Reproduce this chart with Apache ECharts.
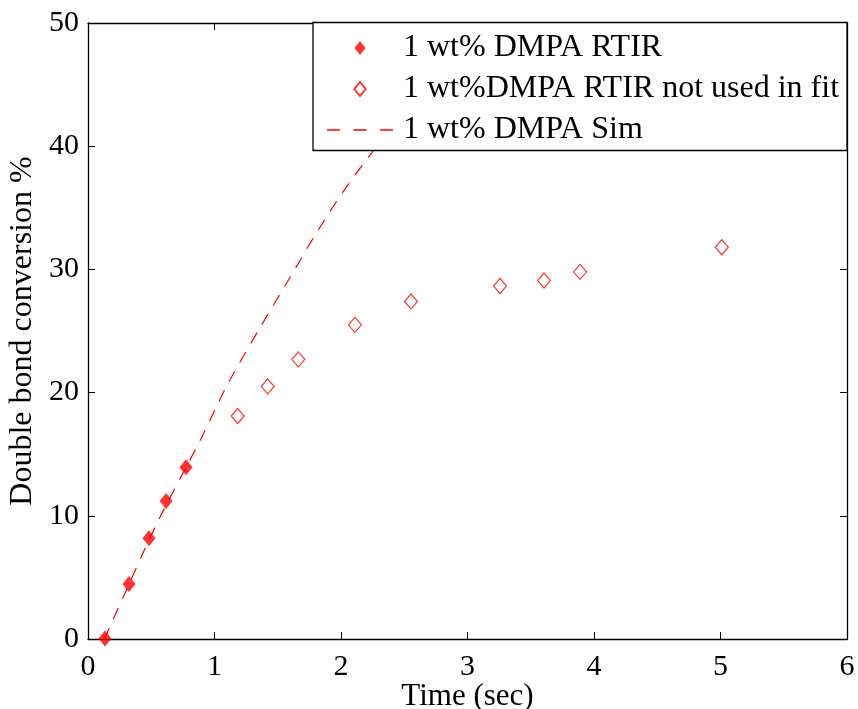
<!DOCTYPE html>
<html>
<head>
<meta charset="utf-8">
<script src="https://cdn.jsdelivr.net/npm/echarts@6/dist/echarts.min.js"></script>
<style>html,body{margin:0;padding:0;background:#fff}#c{width:858px;height:709px}</style>
</head>
<body>
<div id="c"></div>
<script>
var fitTime = [0.134, 0.324, 0.482, 0.617, 0.775];
var fitConv = [0.05, 4.46, 8.17, 11.2, 13.94];
var unusedTime = [1.183, 1.42, 1.663, 2.11, 2.553, 3.257, 3.605, 3.89, 5.01];
var unusedConv = [18.1, 20.5, 22.7, 25.5, 27.4, 28.65, 29.1, 29.8, 31.8];
var simTime = [0.13, 0.3, 0.545, 0.885, 1.1, 1.35, 1.6, 1.82, 2.03, 2.245, 2.5, 2.7];
var simConv = [0, 3.9, 9.4, 16.1, 20.6, 25.1, 29.4, 33.2, 36.5, 39.5, 43, 45.5];
var xTicks = [0, 1, 2, 3, 4, 5, 6];
var yTicks = [0, 10, 20, 30, 40, 50];
var names = ['1 wt% DMPA RTIR', '1 wt%DMPA RTIR not used in fit', '1 wt% DMPA Sim'];

function zip(a, b) { return a.map(function (v, i) { return [v, b[i]]; }); }
var FONT = 'Liberation Serif';
var RED = '#ff0000';
var DIAMOND = 'path://M0,-1L0.8,0L0,1L-0.8,0Z';
var DASHES = 'path://M0,0h13v1.3h-13ZM26.5,0h13v1.3h-13ZM53,0h13v1.3h-13Z';
var chart = echarts.init(document.getElementById('c'));
function axisCommon() {
  return {
    axisLine: { show: true, onZero: false, lineStyle: { color: '#000', width: 1.3 } },
    axisTick: { show: true, inside: true, length: 7, lineStyle: { color: '#000', width: 1 } },
    splitLine: { show: false }
  };
}
chart.setOption({
  animation: false,
  backgroundColor: '#fff',
  grid: { left: 88, top: 23, right: 11, bottom: 70, containLabel: false, outerBoundsMode: 'none' },
  xAxis: [
    Object.assign({
      type: 'value', min: xTicks[0], max: xTicks[xTicks.length - 1], interval: 1, position: 'bottom',
      name: 'Time (sec)', nameLocation: 'middle', nameGap: 42, nameMoveOverlap: false,
      nameTextStyle: { fontFamily: FONT, fontSize: 31, color: '#000' },
      axisLabel: { fontFamily: FONT, fontSize: 30, color: '#000', margin: 13 }
    }, axisCommon()),
    Object.assign({
      type: 'value', min: xTicks[0], max: xTicks[xTicks.length - 1], interval: 1, position: 'top',
      axisLabel: { show: false }
    }, axisCommon())
  ],
  yAxis: [
    Object.assign({
      type: 'value', min: yTicks[0], max: yTicks[yTicks.length - 1], interval: 10, position: 'left',
      name: 'Double bond conversion %', nameLocation: 'middle', nameGap: 49, nameMoveOverlap: false,
      nameTextStyle: { fontFamily: FONT, fontSize: 32, color: '#000' },
      axisLabel: { fontFamily: FONT, fontSize: 30, color: '#000', margin: 9 }
    }, axisCommon()),
    Object.assign({
      type: 'value', min: yTicks[0], max: yTicks[yTicks.length - 1], interval: 10, position: 'right',
      axisLabel: { show: false }
    }, axisCommon())
  ],
  graphic: {
    elements: [{
      type: 'rect', z: 100, shape: { x: 313, y: 22.5, width: 534, height: 128 },
      style: { fill: '#fff', stroke: '#000', lineWidth: 1.3 }
    }]
  },
  legend: {
    z: 200,
    orient: 'vertical', left: 327, top: 32, padding: 0,
    itemWidth: 66, itemHeight: 14, itemGap: 9,
    symbolKeepAspect: true,
    textStyle: { fontFamily: FONT, fontSize: 32, color: '#000', padding: [0, 0, 0, 5] },
    data: [
      { name: names[0], icon: DIAMOND },
      { name: names[1], icon: DIAMOND },
      { name: names[2], icon: DASHES, itemStyle: { color: RED, borderWidth: 0 } }
    ]
  },
  series: [
    {
      name: names[0], type: 'scatter', data: zip(fitTime, fitConv), z: 4,
      symbol: DIAMOND, symbolKeepAspect: false, symbolSize: [13, 16], itemStyle: { color: RED }
    },
    {
      name: names[1], type: 'scatter', data: zip(unusedTime, unusedConv), z: 4,
      symbol: DIAMOND, symbolKeepAspect: false, symbolSize: [13, 15], itemStyle: { color: '#fff', borderColor: RED, borderWidth: 1.2 }
    },
    {
      name: names[2], type: 'line', data: zip(simTime, simConv), z: 3,
      symbol: 'none', smooth: 0.3, lineStyle: { color: RED, width: 1.2, type: [12, 10] },
      itemStyle: { color: RED }
    }
  ]
});
</script>
</body>
</html>
